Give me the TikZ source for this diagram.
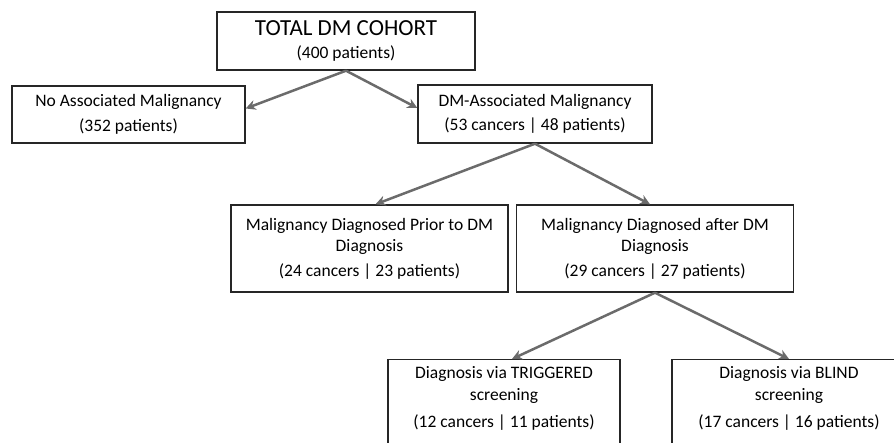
\documentclass[tikz,border=0pt]{standalone}
\usepackage{fontspec}
\setmainfont{Carlito}
\usepackage{tikz}
\usetikzlibrary{arrows.meta, positioning, calc}

\begin{document}
\begin{tikzpicture}[x=1pt, y=-1pt, auto]
    \tikzstyle{block} = [rectangle, draw=black!85, line width=1.4pt, align=center,
                         inner sep=0pt, font=\fontsize{17.5}{21.5}\selectfont]
    \tikzstyle{link} = [-{Stealth[length=10pt, width=10pt]}, line width=2.5pt, draw=black!58]

    \useasboundingbox (0,0) rectangle (894,443);

    \node [block, minimum width=258pt, minimum height=58pt] (total) at (346,41) {
        {\fontsize{23}{24}\selectfont TOTAL DM COHORT}\\[1pt]
        (400 patients)
    };
    \node [block, minimum width=233pt, minimum height=57pt] (noassoc) at (128.5,114.5) {
        No Associated Malignancy\\[3pt]
        (352 patients)
    };
    \node [block, minimum width=234pt, minimum height=58pt] (dm) at (535,114) {
        DM-Associated Malignancy\\[3pt]
        (53 cancers | 48 patients)
    };
    \node [block, minimum width=277pt, minimum height=87pt] (prior) at (369.5,248.5) {
        Malignancy Diagnosed Prior to DM\\
        Diagnosis\\[3pt]
        (24 cancers | 23 patients)
    };
    \node [block, minimum width=277pt, minimum height=87pt] (after) at (655,248.5) {
        Malignancy Diagnosed after DM\\
        Diagnosis\\[3pt]
        (29 cancers | 27 patients)
    };
    \node [block, anchor=north, minimum width=232pt, inner ysep=7pt, text depth=80pt] (trig) at (504,359) {
        Diagnosis via TRIGGERED\\
        screening\\[6pt]
        (12 cancers | 11 patients)
    };
    \node [block, anchor=north, minimum width=234pt, inner ysep=7pt, text depth=80pt] (blind) at (789,359) {
        Diagnosis via BLIND\\
        screening\\[6pt]
        (17 cancers | 16 patients)
    };

    \draw [link] (total.south) -- ([yshift=6pt]noassoc.east);
    \draw [link] (total.south) -- ([yshift=6pt]dm.west);
    \draw [link] (dm.south) -- ([xshift=6pt]prior.north);
    \draw [link] (dm.south) -- ([xshift=-5pt]after.north);
    \draw [link] (after.south) -- ([xshift=8pt]trig.north);
    \draw [link] (after.south) -- (blind.north);
\end{tikzpicture}
\end{document}
